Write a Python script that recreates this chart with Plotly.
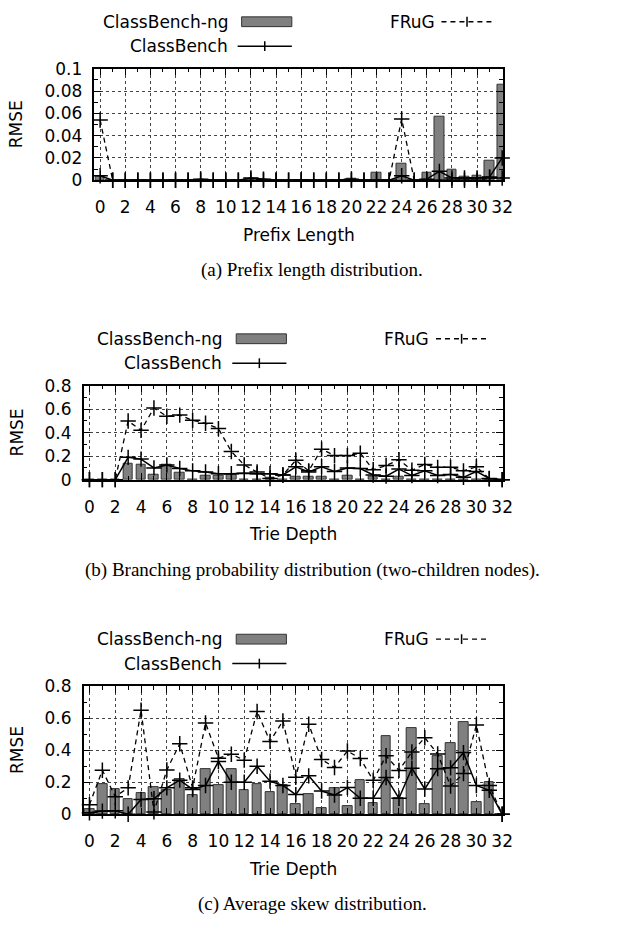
import plotly.graph_objects as go

W, H = 634, 929

# ---------------- data ----------------
x_vals = list(range(33))
x_tick_vals = list(range(0, 33, 2))

# (a) Prefix length distribution
pl_classbench_ng = [0.003, 0, 0, 0, 0, 0, 0, 0, 0, 0, 0, 0, 0, 0, 0, 0, 0, 0, 0, 0,
                    0.001, 0, 0.0065, 0, 0.0147, 0, 0.007, 0.057, 0.0095, 0.003, 0.004, 0.0174, 0.086]
pl_classbench = [0.004, 0, 0, 0, 0, 0, 0, 0, 0.001, 0, 0, 0, 0.002, 0.001, 0, 0, 0.0005, 0, 0, 0,
                 0.001, 0, 0, 0, 0.004, 0, 0.001, 0.008, 0.002, 0.002, 0.002, 0.003, 0.02]
pl_frug = [0.054, 0, 0, 0, 0, 0, 0, 0, 0, 0, 0, 0, 0, 0, 0, 0, 0, 0, 0, 0,
           0, 0, 0, 0, 0.055, 0, 0, 0, 0, 0, 0, 0.002, 0.002]

# (b) Branching probability distribution
br_classbench_ng = [0, 0, 0, 0.135, 0.125, 0.045, 0.13, 0.062, 0, 0.033, 0.03, 0.046, 0, 0, 0.015, 0,
                    0.025, 0.025, 0.028, 0, 0.036, 0, 0.022, 0, 0.022, 0, 0, 0, 0, 0, 0, 0, 0]
br_classbench = [0, 0, 0, 0.19, 0.175, 0.1, 0.125, 0.095, 0.075, 0.065, 0.05, 0.05, 0.055, 0.05, 0.05, 0.04,
                 0.11, 0.065, 0.11, 0.07, 0.1, 0.095, 0.04, 0.03, 0.09, 0.035, 0.075, 0.035, 0.045, 0.02,
                 0.07, 0.01, 0]
br_frug = [0, 0, 0, 0.5, 0.42, 0.61, 0.54, 0.55, 0.505, 0.48, 0.435, 0.24, 0.125, 0.065, 0.01, 0.04,
           0.165, 0.075, 0.26, 0.205, 0.205, 0.225, 0.085, 0.12, 0.17, 0.08, 0.13, 0.105, 0.105, 0.075,
           0.11, 0.008, 0]

# (c) Average skew distribution
sk_classbench_ng = [0.03, 0.19, 0.16, 0.095, 0.13, 0.17, 0.15, 0.22, 0.12, 0.28, 0.185, 0.28, 0.15, 0.19,
                    0.14, 0.18, 0.065, 0.125, 0.04, 0.165, 0.05, 0.215, 0.07, 0.485, 0.1, 0.54, 0.065,
                    0.365, 0.445, 0.575, 0.077, 0.2, 0]
sk_classbench = [0.01, 0.02, 0.022, 0, 0.092, 0.097, 0.165, 0.213, 0.155, 0.18, 0.33, 0.2, 0.2, 0.3, 0.207,
                 0.18, 0.123, 0.24, 0.145, 0.12, 0.167, 0.1, 0.1, 0.23, 0.1, 0.287, 0.158, 0.285, 0.29,
                 0.385, 0.18, 0.15, 0]
sk_frug = [0.06, 0.275, 0.11, 0.165, 0.65, 0.015, 0.277, 0.44, 0.165, 0.57, 0.35, 0.375, 0.338, 0.642,
           0.455, 0.583, 0.232, 0.562, 0.342, 0.292, 0.395, 0.348, 0.212, 0.365, 0.274, 0.389, 0.478,
           0.376, 0.177, 0.254, 0.557, 0.18, 0]

series_names = ["ClassBench-ng", "ClassBench", "FRuG"]
x_titles = ["Prefix Length", "Trie Depth", "Trie Depth"]
y_title = "RMSE"
captions = ["(a) Prefix length distribution.",
            "(b) Branching probability distribution (two-children nodes).",
            "(c) Average skew distribution."]
y_ranges = [[0, 0.1], [0, 0.8], [0, 0.8]]
y_dticks = [0.02, 0.2, 0.2]
y_minor = [0.01, 0.1, 0.1]

panel_data = [
    (pl_classbench_ng, pl_classbench, pl_frug),
    (br_classbench_ng, br_classbench, br_frug),
    (sk_classbench_ng, sk_classbench, sk_frug),
]

# ---------------- layout geometry (pixels) ----------------
panels_px = [
    dict(left=96, right=511, top=60, bottom=174),
    dict(left=85, right=511, top=384, bottom=480),
    dict(left=85, right=511, top=691, bottom=822),
]

FONT = "DejaVu Sans"
FS = 17
BAR_FILL = "#808080"
BAR_EDGE = "#333333"


def fx(x):
    return x / W


def fy(y):
    return 1 - y / H


fig = go.Figure()
shapes = []
annotations = []

for i, (ng, cb, fr) in enumerate(panel_data):
    n = "" if i == 0 else str(i + 1)
    xa, ya = "x" + n, "y" + n
    p = panels_px[i]

    fig.add_trace(go.Bar(x=x_vals, y=ng, width=0.75, xaxis=xa, yaxis=ya,
                         marker=dict(color=BAR_FILL, line=dict(color=BAR_EDGE, width=1)),
                         showlegend=False, name=series_names[0]))
    fig.add_trace(go.Scatter(x=x_vals, y=fr, xaxis=xa, yaxis=ya, mode="lines+markers",
                             line=dict(color="black", width=1.3, dash="5px,4px"),
                             marker=dict(symbol="cross-thin", size=11, line=dict(color="black", width=1.5)),
                             cliponaxis=False, showlegend=False, name=series_names[2]))
    fig.add_trace(go.Scatter(x=x_vals, y=cb, xaxis=xa, yaxis=ya, mode="lines+markers",
                             line=dict(color="black", width=1.5),
                             marker=dict(symbol="cross-thin", size=11, line=dict(color="black", width=1.5)),
                             cliponaxis=False, showlegend=False, name=series_names[1]))

    axis_common = dict(showline=True, linecolor="black", linewidth=1.5, mirror="ticks",
                       ticks="inside", ticklen=7, tickwidth=1, tickcolor="black",
                       showgrid=True, gridcolor="#444444", gridwidth=1, griddash="dot",
                       zeroline=False, tickfont=dict(family=FONT, size=FS, color="black"))
    fig.update_layout(**{
        ("xaxis" + n): dict(axis_common, domain=[fx(p["left"]), fx(p["right"])], anchor=ya,
                            range=[-0.45, 32.06], tickmode="array", tickvals=x_tick_vals,
                            ticktext=[str(v) for v in x_tick_vals], ticklabelstandoff=11,
                            minor=dict(ticks="inside", ticklen=4, dtick=1, tick0=0, tickcolor="black",
                                       showgrid=False)),
        ("yaxis" + n): dict(axis_common, domain=[fy(p["bottom"]), fy(p["top"])], anchor=xa,
                            range=y_ranges[i], dtick=y_dticks[i], tick0=0, ticklabelstandoff=7,
                            minor=dict(ticks="inside", ticklen=4, dtick=y_minor[i], tick0=0,
                                       tickcolor="black", showgrid=False)),
    })

    cx = (p["left"] + p["right"]) / 2
    # axis titles
    annotations.append(dict(text=x_titles[i], x=fx(cx), y=fy(p["bottom"] + 56), xref="paper", yref="paper",
                            showarrow=False, font=dict(family=FONT, size=FS, color="black"),
                            xanchor="center", yanchor="middle"))
    annotations.append(dict(text=y_title, x=fx(17), y=fy((p["top"] + p["bottom"]) / 2), xref="paper",
                            yref="paper", showarrow=False, textangle=-90,
                            font=dict(family=FONT, size=FS, color="black"),
                            xanchor="center", yanchor="middle"))
    # caption
    annotations.append(dict(text=captions[i], x=0.5, y=fy(p["bottom"] + 92), xref="paper", yref="paper",
                            showarrow=False, font=dict(family="Liberation Serif", size=19, color="black"),
                            xanchor="center", yanchor="middle"))

    # key (gnuplot style: text then sample)
    r1 = p["top"] - 48
    r2 = p["top"] - 23
    tx1 = cx - 70
    annotations.append(dict(text=series_names[0], x=fx(tx1), y=fy(r1), xref="paper", yref="paper",
                            showarrow=False, font=dict(family=FONT, size=FS, color="black"),
                            xanchor="right", yanchor="middle"))
    annotations.append(dict(text=series_names[1], x=fx(tx1), y=fy(r2), xref="paper", yref="paper",
                            showarrow=False, font=dict(family=FONT, size=FS, color="black"),
                            xanchor="right", yanchor="middle"))
    s0, s1 = cx - 58, cx - 7
    shapes.append(dict(type="rect", xref="paper", yref="paper", x0=fx(s0), x1=fx(s1),
                       y0=fy(r1 + 5), y1=fy(r1 - 5), fillcolor=BAR_FILL,
                       line=dict(color=BAR_EDGE, width=1)))
    shapes.append(dict(type="line", xref="paper", yref="paper", x0=fx(s0 - 4), x1=fx(s1),
                       y0=fy(r2), y1=fy(r2), line=dict(color="black", width=1.5)))
    mx = (s0 - 4 + s1) / 2
    shapes.append(dict(type="line", xref="paper", yref="paper", x0=fx(mx), x1=fx(mx),
                       y0=fy(r2 - 5), y1=fy(r2 + 5), line=dict(color="black", width=1.5)))
    tx2 = cx + 140
    annotations.append(dict(text=series_names[2], x=fx(tx2), y=fy(r1), xref="paper", yref="paper",
                            showarrow=False, font=dict(family=FONT, size=FS, color="black"),
                            xanchor="right", yanchor="middle"))
    f0, f1 = cx + 145, cx + 197
    shapes.append(dict(type="line", xref="paper", yref="paper", x0=fx(f0), x1=fx(f1),
                       y0=fy(r1), y1=fy(r1), line=dict(color="black", width=1.3, dash="5px,4px")))
    fm = (f0 + f1) / 2
    shapes.append(dict(type="line", xref="paper", yref="paper", x0=fx(fm), x1=fx(fm),
                       y0=fy(r1 - 5), y1=fy(r1 + 5), line=dict(color="black", width=1.5)))

fig.update_layout(width=W, height=H, margin=dict(l=0, r=0, t=0, b=0),
                  paper_bgcolor="white", plot_bgcolor="white", showlegend=False,
                  bargap=0, shapes=shapes, annotations=annotations,
                  font=dict(family=FONT, size=FS, color="black"))

fig.write_html("out.html", config={"displayModeBar": False},
               post_script="document.body.style.margin='0px';")
